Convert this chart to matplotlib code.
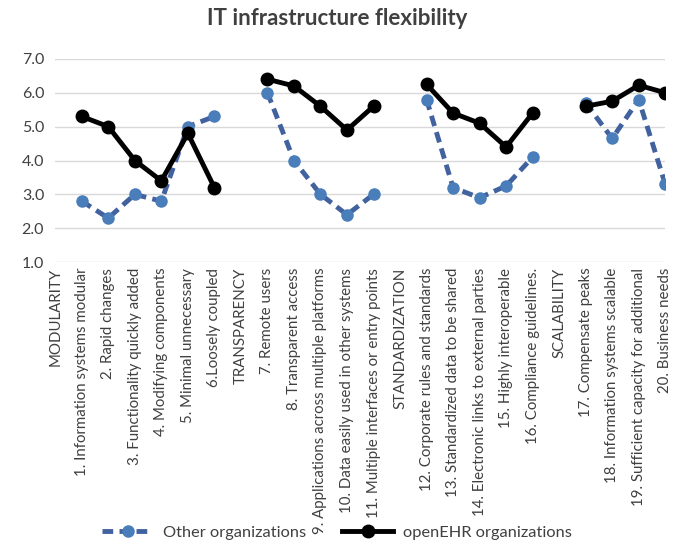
import numpy as np
import matplotlib
matplotlib.use("Agg")
import matplotlib.pyplot as plt

plt.rcParams['font.family'] = ['Lato', 'DejaVu Sans']

# Categories (section headers have no values)
categories = [
    "MODULARITY",
    "1. Information systems modular",
    "2. Rapid changes",
    "3. Functionality quickly added",
    "4. Modifying components",
    "5. Minimal unnecessary",
    "6.Loosely coupled",
    "TRANSPARENCY",
    "7. Remote users",
    "8. Transparent access",
    "9. Applications across multiple platforms",
    "10. Data easily used in other systems",
    "11. Multiple interfaces or entry points",
    "STANDARDIZATION",
    "12. Corporate rules and standards",
    "13. Standardized data to be shared",
    "14. Electronic links to external parties",
    "15. Highly interoperable",
    "16. Compliance guidelines.",
    "SCALABILITY",
    "17. Compensate peaks",
    "18. Information systems scalable",
    "19. Sufficient capacity for additional",
    "20. Business needs",
]

other_orgs = [None, 2.8, 2.3, 3.0, 2.8, 5.0, 5.3,
              None, 6.0, 4.0, 3.0, 2.4, 3.0,
              None, 5.8, 3.2, 2.9, 3.25, 4.1,
              None, 5.7, 4.65, 5.8, 3.3]
openehr_orgs = [None, 5.3, 5.0, 4.0, 3.4, 4.8, 3.2,
                None, 6.4, 6.2, 5.6, 4.9, 5.6,
                None, 6.25, 5.4, 5.1, 4.4, 5.4,
                None, 5.6, 5.75, 6.22, 6.0]

other = np.array(other_orgs, dtype=float)
ehr = np.array(openehr_orgs, dtype=float)
x = np.arange(len(categories))

fig = plt.figure(figsize=(6.74, 5.45), dpi=100)
ax = fig.add_axes([0.082, 0.519, 0.905, 0.373])

ax.plot(x, other, color='#41629f', linestyle=(0, (2.2, 1.3)), linewidth=3.5,
        marker='o', markersize=8, markerfacecolor='#4a7ebb', markeredgecolor='#4a7ebb',
        label='Other organizations', zorder=3)
ax.plot(x, ehr, color='black', linewidth=3.5, marker='o', markersize=9,
        label='openEHR organizations', zorder=4)

ax.set_xlim(0, len(categories) - 1)
ax.set_ylim(1, 7)
ax.set_yticks(np.arange(1, 7.1, 1))
ax.set_yticklabels([f"{v:.1f}" for v in np.arange(1, 7.1, 1)])
ax.set_xticks(x)
ax.set_xticklabels(categories, rotation=90, fontsize=10.8, color='#404040')
ax.tick_params(axis='y', labelsize=11.5, labelcolor='#404040', length=0, pad=8)
ax.tick_params(axis='x', length=0, pad=4)
ax.grid(axis='y', color='#d9d9d9', linewidth=1)
ax.set_axisbelow(True)
for s in ax.spines.values():
    s.set_visible(False)

fig.suptitle("IT infrastructure flexibility", fontsize=16, fontweight='bold',
             color='#404040', y=0.985)

fig.legend(loc='lower center', bbox_to_anchor=(0.5, -0.018), ncol=2, frameon=False,
           fontsize=11.8, handlelength=3.1, handletextpad=0.6, columnspacing=2.2,
           labelcolor='#404040')

fig.savefig("out.png", dpi=100)
